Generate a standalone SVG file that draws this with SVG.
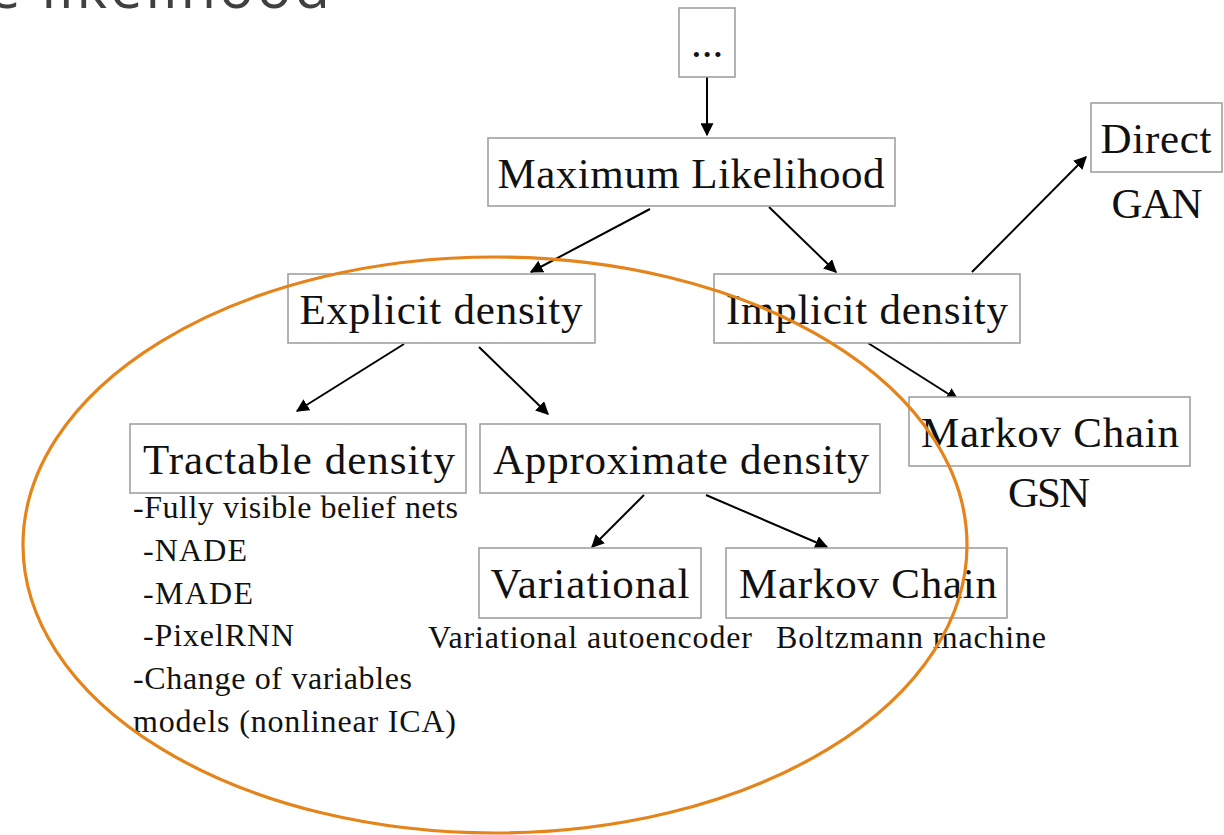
<svg xmlns="http://www.w3.org/2000/svg" width="1224" height="835" viewBox="0 0 1224 835">
  <style>
    .box { fill: #ffffff; stroke: #9a9a9a; stroke-width: 1.5; }
    .lbl { font-family: "Liberation Serif", "Times New Roman", serif; font-size: 43px; fill: #111; text-anchor: middle; }
    .sub { font-family: "Liberation Serif", "Times New Roman", serif; font-size: 32px; fill: #111; }
    .edge { stroke: #000; stroke-width: 2; fill: none; marker-end: url(#arrow); }
    .title { font-family: "Open Sans", "Liberation Sans", sans-serif; font-size: 58px; fill: #404040; }
  </style>
  <defs>
    <marker id="arrow" viewBox="0 0 10 10" refX="9" refY="5" markerWidth="6.5" markerHeight="6.5" orient="auto" markerUnits="strokeWidth">
      <path d="M0,0 L10,5 L0,10 Z" fill="#000"/>
    </marker>
  </defs>
  <rect width="1224" height="835" fill="#ffffff"/>

  <!-- slide heading, clipped at the top edge -->
  <text class="title" x="-12" y="8" textLength="342" lengthAdjust="spacing">e likelihood</text>

  <g id="connectors">
    <line class="edge" x1="707" y1="66" x2="707" y2="135"/>
    <line class="edge" x1="650" y1="209" x2="531" y2="272"/>
    <line class="edge" x1="769" y1="207" x2="836" y2="272"/>
    <line class="edge" x1="972" y1="272" x2="1086" y2="157"/>
    <line class="edge" x1="404" y1="344" x2="297" y2="411"/>
    <line class="edge" x1="479" y1="347" x2="548" y2="414"/>
    <line class="edge" x1="868" y1="343" x2="958" y2="400"/>
    <line class="edge" x1="644" y1="495" x2="592" y2="547"/>
    <line class="edge" x1="706" y1="495" x2="827" y2="547"/>
  </g>

  <g id="node-more">
    <rect class="box" x="679" y="8" width="56" height="69"/>
    <text class="lbl" x="707" y="57">...</text>
  </g>

  <g id="node-max-likelihood">
    <rect class="box" x="488" y="138" width="407" height="68"/>
    <text class="lbl" x="691" y="188" textLength="387" lengthAdjust="spacing">Maximum Likelihood</text>
  </g>

  <g id="node-direct">
    <rect class="box" x="1091" y="103" width="131" height="69"/>
    <text class="lbl" x="1156" y="153" textLength="111" lengthAdjust="spacing">Direct</text>
    <text class="lbl" x="1157" y="218" textLength="91" lengthAdjust="spacing">GAN</text>
  </g>

  <g id="node-explicit">
    <rect class="box" x="288" y="274" width="307" height="69"/>
    <text class="lbl" x="441" y="324" textLength="283" lengthAdjust="spacing">Explicit density</text>
  </g>

  <g id="node-implicit">
    <rect class="box" x="714" y="274" width="306" height="69"/>
    <text class="lbl" x="867" y="324" textLength="282" lengthAdjust="spacing">Implicit density</text>
  </g>

  <g id="node-tractable">
    <rect class="box" x="130" y="424" width="336" height="69"/>
    <text class="lbl" x="299" y="474" textLength="312" lengthAdjust="spacing">Tractable density</text>
    <text class="sub" x="133" y="518" textLength="325" lengthAdjust="spacing">-Fully visible belief nets</text>
    <text class="sub" x="143" y="561" textLength="104" lengthAdjust="spacing">-NADE</text>
    <text class="sub" x="143" y="604" textLength="110" lengthAdjust="spacing">-MADE</text>
    <text class="sub" x="143" y="646" textLength="151" lengthAdjust="spacing">-PixelRNN</text>
    <text class="sub" x="133" y="689" textLength="279" lengthAdjust="spacing">-Change of variables</text>
    <text class="sub" x="133" y="732" textLength="323" lengthAdjust="spacing">models (nonlinear ICA)</text>
  </g>

  <g id="node-approximate">
    <rect class="box" x="480" y="424" width="400" height="69"/>
    <text class="lbl" x="681" y="474" textLength="376" lengthAdjust="spacing">Approximate density</text>
  </g>

  <g id="node-markov-gsn">
    <rect class="box" x="909" y="397" width="281" height="69"/>
    <text class="lbl" x="1050" y="447" textLength="258" lengthAdjust="spacing">Markov Chain</text>
    <text class="lbl" x="1049" y="507" textLength="82" lengthAdjust="spacing">GSN</text>
  </g>

  <g id="node-variational">
    <rect class="box" x="479" y="548" width="222" height="70"/>
    <text class="lbl" x="590" y="598" textLength="199" lengthAdjust="spacing">Variational</text>
    <text class="sub" x="590" y="648" text-anchor="middle" textLength="324" lengthAdjust="spacing">Variational autoencoder</text>
  </g>

  <g id="node-markov-boltzmann">
    <rect class="box" x="726" y="548" width="281" height="70"/>
    <text class="lbl" x="868" y="598" textLength="258" lengthAdjust="spacing">Markov Chain</text>
    <text class="sub" x="911" y="648" text-anchor="middle" textLength="270" lengthAdjust="spacing">Boltzmann machine</text>
  </g>

  <!-- highlight around the explicit-density branch -->
  <ellipse id="highlight" cx="495" cy="545" rx="472" ry="288" fill="none" stroke="#e5841a" stroke-width="3.2"/>
</svg>
